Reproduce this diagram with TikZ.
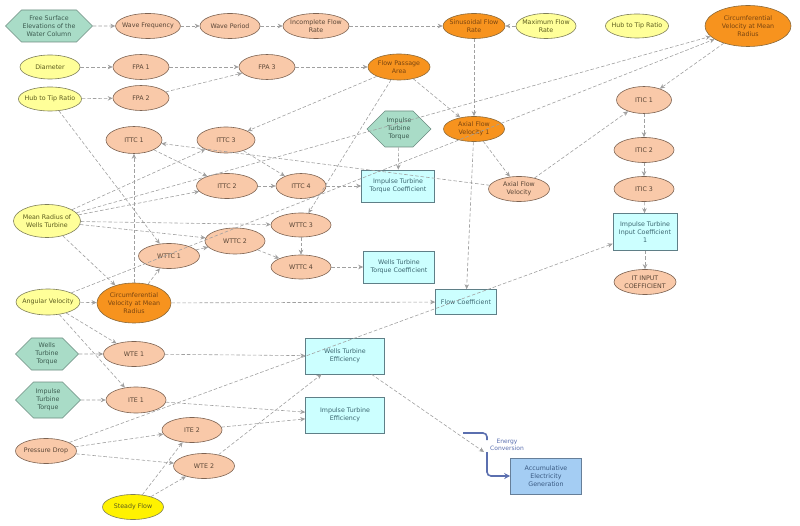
\documentclass[tikz,border=0pt]{standalone}
\usepackage{fontspec}
\setmainfont{DejaVu Sans}
\usetikzlibrary{shapes.geometric,shapes.symbols,arrows.meta}
\definecolor{peach}{HTML}{F9C9A9}
\definecolor{peachline}{HTML}{7D6352}
\definecolor{peachtext}{HTML}{5A4636}
\definecolor{orng}{HTML}{F7931E}
\definecolor{orngline}{HTML}{8C6A3A}
\definecolor{orngtext}{HTML}{7A4510}
\definecolor{lemon}{HTML}{FFFF99}
\definecolor{lemonline}{HTML}{7F7F5A}
\definecolor{lemontext}{HTML}{5C5C1E}
\definecolor{mint}{HTML}{A9DCC7}
\definecolor{mintline}{HTML}{6B8B80}
\definecolor{minttext}{HTML}{3C5C50}
\definecolor{aqua}{HTML}{CCFFFF}
\definecolor{aqualine}{HTML}{5F7F87}
\definecolor{aquatext}{HTML}{3B6670}
\definecolor{sky}{HTML}{A4CDF3}
\definecolor{skyline}{HTML}{667F99}
\definecolor{skytext}{HTML}{3A5A82}
\definecolor{linkgray}{HTML}{A0A0A0}
\definecolor{pipe}{HTML}{5B6FAF}
\begin{document}
\begin{tikzpicture}[x=1pt,y=-1pt,font=\fontsize{6.3}{7.8}\selectfont,
  every node/.style={align=center,inner sep=1pt,line width=0.6pt},
  aux/.style={ellipse,inner xsep=-3pt,inner ysep=0pt,draw=peachline,fill=peach,text=peachtext,minimum width=60pt,minimum height=25pt},
  rate/.style={aux,draw=orngline,fill=orng,text=orngtext},
  const/.style={aux,draw=lemonline,fill=lemon,text=lemontext},
  ext/.style={signal,signal to=east and west,signal from=nowhere,signal pointer angle=90,draw=mintline,fill=mint,text=minttext,minimum width=64pt,minimum height=34pt},
  stock/.style={rectangle,draw=aqualine,fill=aqua,text=aquatext,minimum width=72pt,minimum height=32pt},
  link/.style={draw=linkgray,line width=0.6pt,dash pattern=on 3.5pt off 2pt,-{Stealth[length=5pt,width=4.5pt]}},
  flow/.style={draw=pipe,line width=1.6pt,rounded corners=4pt}]
\useasboundingbox (0,0) rectangle (800,526);
\node[ext,minimum width=82pt,minimum height=32pt] (fse) at (49,26) {Free Surface\\Elevations of the\\Water Column};
\node[aux] (wf) at (148,26) {Wave Frequency}; \node[aux] (wp) at (230,26) {Wave Period};
\node[aux,minimum width=66pt] (ifr) at (316,26) {Incomplete Flow\\Rate};
\node[rate,minimum width=62pt] (sfr) at (474,26) {Sinusoidal Flow\\Rate};
\node[const] (mfr) at (546,26) {Maximum Flow\\Rate};
\node[const,minimum width=62pt,minimum height=24pt] (htr2) at (637,26) {Hub to Tip Ratio};
\node[rate,minimum width=86pt,minimum height=41pt] (cvr2) at (748,26) {Circumferential\\Velocity at Mean\\Radius};
\node[const,minimum height=24pt] (dia) at (50,67) {Diameter};
\node[aux,minimum width=56pt] (fpa1) at (141,67) {FPA 1}; \node[aux,minimum width=56pt] (fpa3) at (267,67) {FPA 3};
\node[rate,minimum width=62pt,minimum height=26pt] (fpa) at (399,67) {Flow Passage\\Area};
\node[const,minimum height=24pt] (htr) at (50,99) {Hub to Tip Ratio};
\node[aux,minimum width=56pt] (fpa2) at (141,98) {FPA 2};
\node[aux,minimum width=56pt,minimum height=27pt] (ittc1) at (134,140) {ITTC 1};
\node[aux,minimum width=58pt,minimum height=26pt] (ittc3) at (226,140) {ITTC 3};
\node[ext,minimum height=36pt] (itt) at (399,129) {Impulse\\Turbine\\Torque};
\node[rate,minimum width=61pt] (afv1) at (474,129) {Axial Flow\\Velocity 1};
\node[aux,minimum width=55pt,minimum height=27pt] (itic1) at (644,100) {ITIC 1};
\node[aux] (itic2) at (644,150) {ITIC 2}; \node[aux] (itic3) at (644,189) {ITIC 3};
\node[stock,minimum width=64pt,minimum height=37pt] (itic) at (645,232) {Impulse Turbine\\Input Coefficient\\1};
\node[aux,minimum width=62pt] (itin) at (645,282) {IT INPUT\\COEFFICIENT};
\node[aux,minimum width=61pt] (ittc2) at (227,186) {ITTC 2}; \node[aux,minimum width=50pt] (ittc4) at (301,186) {ITTC 4};
\node[stock,minimum width=73pt] (ittcb) at (398,186) {Impulse Turbine\\Torque Coefficient};
\node[aux,minimum width=61pt] (afv) at (519,189) {Axial Flow\\Velocity};
\node[const,minimum width=67pt,minimum height=33pt] (mr) at (47,221) {Mean Radius of\\Wells Turbine};
\node[aux,minimum height=24pt] (wttc3) at (301,225) {WTTC 3}; \node[aux,minimum height=26pt] (wttc2) at (235,241) {WTTC 2};
\node[aux,minimum width=61pt] (wttc1) at (169,256) {WTTC 1}; \node[aux,minimum height=24pt] (wttc4) at (301,267) {WTTC 4};
\node[stock,minimum width=71pt] (wttcb) at (399,267) {Wells Turbine\\Torque Coefficient};
\node[stock,minimum width=61pt,minimum height=25pt] (fc) at (466,302) {Flow Coefficient};
\node[const,minimum width=61pt,minimum height=26pt] (av) at (48,302) {Angular Velocity};
\node[rate,minimum width=74pt,minimum height=40pt] (cvr) at (134,303) {Circumferential\\Velocity at Mean\\Radius};
\node[ext,minimum width=63pt,minimum height=32pt] (wtt) at (47,354) {Wells\\Turbine\\Torque};
\node[aux,minimum width=61pt] (wte1) at (134,354) {WTE 1};
\node[ext,minimum width=65pt,minimum height=36pt] (itt2) at (48,400) {Impulse\\Turbine\\Torque};
\node[aux,minimum height=26pt] (ite1) at (136,400) {ITE 1};
\node[aux,minimum width=61pt] (pd) at (46,451) {Pressure Drop};
\node[aux] (ite2) at (192,430) {ITE 2}; \node[aux,minimum width=61pt] (wte2) at (204,466) {WTE 2};
\node[const,fill=yellow,minimum width=61pt] (sf) at (133,507) {Steady Flow};
\node[stock,minimum width=79pt,minimum height=36pt] (wteb) at (345,356) {Wells Turbine\\Efficiency};
\node[stock,minimum width=79pt,minimum height=36pt] (iteb) at (345,415) {Impulse Turbine\\Efficiency};
\node[stock,draw=skyline,fill=sky,text=skytext,minimum width=71pt,minimum height=36pt] (aeg) at (546,476) {Accumulative\\Electricity\\Generation};
\node[text=pipe,font=\fontsize{6}{7.2}\selectfont] (ecl) at (507,445) {Energy\\Conversion};
\coordinate (ec) at (484,452); \coordinate (src) at (463,433);
\foreach \a/\b in {fse/wf,wf/wp,wp/ifr,ifr/sfr,mfr/sfr,sfr/afv1,dia/fpa1,fpa1/fpa3,htr/fpa2,fpa2/fpa3,fpa3/fpa,
  fpa/ittc3,fpa/afv1,fpa/wttc3,htr/wttc1,mr/cvr2,av/cvr2,cvr2/itic1,afv/itic1,itic1/itic2,itic2/itic3,itic3/itic,
  itic/itin,pd/itic,cvr/ittc1,ittc1/ittc2,afv/ittc1,ittc3/ittc4,ittc2/ittc4,ittc4/ittcb,itt/ittcb,mr/ittc3,mr/ittc2,
  mr/wttc3,mr/wttc2,mr/cvr,av/cvr,av/wte1,av/ite1,wtt/wte1,itt2/ite1,cvr/fc,cvr/wttc1,afv1/afv,afv1/fc,
  wttc1/wttc2,wttc2/wttc4,wttc3/wttc4,wttc4/wttcb,wte1/wteb,wte2/wteb,ite1/iteb,ite2/iteb,pd/ite2,pd/wte2,sf/ite2,sf/wte2,wteb/ec}
  \draw[link] (\a) -- (\b);
\draw[flow] (src) -| ([shift={(3,-12)}]ec);
\draw[flow,-{Stealth[length=6pt,width=6pt]}] ([shift={(3,0)}]ec) |- (aeg);
\end{tikzpicture}
\end{document}
